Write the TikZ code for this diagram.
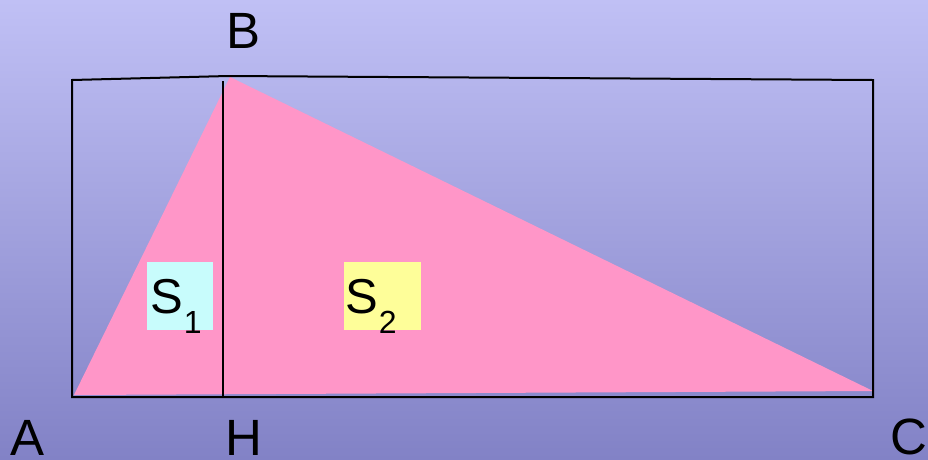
\documentclass[tikz,border=0pt]{standalone}
\usepackage{fontspec}
\setmainfont{Liberation Sans}
\definecolor{bgtop}{RGB}{192,192,245}
\definecolor{bgbot}{RGB}{130,130,198}
\definecolor{tripink}{RGB}{255,150,200}
\definecolor{boxcyan}{RGB}{200,252,252}
\definecolor{boxyellow}{RGB}{254,254,153}
\tikzset{
  pt/.style={inner sep=0pt, anchor=base west, font=\fontsize{51pt}{51pt}\selectfont},
  areabox/.style={inner sep=0pt, anchor=north west},
  areatext/.style={inner sep=0pt, anchor=base west, font=\fontsize{49pt}{49pt}\selectfont},
}
\newcommand{\subidx}[1]{\hspace{1pt}\raisebox{-20pt}{\fontsize{32pt}{32pt}\selectfont #1}}
\begin{document}
\begin{tikzpicture}[x=1pt,y=-1pt]
\useasboundingbox (0,0) rectangle (928,459);
\shade[top color=bgtop, bottom color=bgbot] (0,0) rectangle (928,459);
% vertices
\coordinate (A) at (74,395);
\coordinate (B) at (230,77);
\coordinate (C) at (873,391);
\coordinate (H) at (223,397);
\coordinate (Htop) at (223,81);
\coordinate (R1) at (72,80);
\coordinate (R2) at (228,76);
\coordinate (R3) at (873,80);
\coordinate (R4) at (873,397);
\coordinate (R5) at (72,397);
\fill[tripink] (A) -- (B) -- (C) -- cycle;
\draw[line width=2pt, line join=miter] (R1) -- (R2) -- (R3) -- (R4) -- (R5) -- cycle;
\draw[line width=1.6pt] (Htop) -- (H);
% area boxes
\node[areabox, fill=boxcyan, minimum width=66pt, minimum height=68pt] (box1) at (147,262) {};
\node[areabox, fill=boxyellow, minimum width=77pt, minimum height=68pt] (box2) at (344,262) {};
\node[areatext] (s1) at (150,313) {S\subidx{1}};
\node[areatext] (s2) at (345,313) {S\subidx{2}};
% vertex labels
\node[pt] (lA) at (10,455) {A};
\node[pt] (lB) at (226,48) {B};
\node[pt] (lH) at (225,455) {H};
\node[pt] (lC) at (890,454) {C};
\end{tikzpicture}
\end{document}
